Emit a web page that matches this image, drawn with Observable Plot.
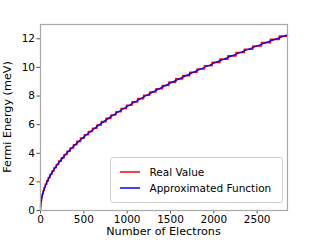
<!DOCTYPE html>
<html>
<head>
<meta charset="utf-8">
<script src="https://cdn.jsdelivr.net/npm/d3@7"></script>
<script src="https://cdn.jsdelivr.net/npm/@observablehq/plot@0.6"></script>
<style>
  html, body { margin: 0; padding: 0; background: #fff; }
  #chart { position: relative; width: 320px; height: 240px; }
  #chart svg text { font-family: "DejaVu Sans", sans-serif; }
</style>
</head>
<body>
<div id="chart"></div>
<script>
// Real value: Fermi energy steps (start electron count of each filled shell, energy in meV)
const shellStart = [0,2,6,12,20,30,42,56,72,90,110,132,156,182,210,240,272,306,342,380,420,462,506,552,600,650,702,756,812,870,930,992,1056,1122,1190,1260,1332,1406,1482,1560,1640,1722,1806,1892,1980,2070,2162,2256,2352,2450,2550,2652,2756,2850];
const shellEnergy = [0.23,0.46,0.69,0.92,1.15,1.38,1.61,1.84,2.07,2.30,2.53,2.76,2.99,3.22,3.45,3.68,3.91,4.14,4.37,4.60,4.83,5.06,5.29,5.52,5.75,5.98,6.21,6.44,6.67,6.90,7.13,7.36,7.59,7.82,8.05,8.28,8.51,8.74,8.97,9.20,9.43,9.66,9.89,10.12,10.35,10.58,10.81,11.04,11.27,11.50,11.73,11.96,12.19,12.19];

// Approximated function
const approxN = [0,2,5,10,20,35,50,75,100,150,200,300,400,500,600,800,1000,1200,1400,1600,1800,2000,2200,2400,2600,2850];
const approxE = [0,0.33,0.51,0.73,1.03,1.36,1.63,1.99,2.30,2.82,3.25,3.98,4.60,5.14,5.63,6.51,7.27,7.97,8.61,9.20,9.76,10.29,10.79,11.27,11.73,12.28];

const xTicks = [0,500,1000,1500,2000,2500];
const yTicks = [0,2,4,6,8,10,12];

const xLabel = "Number of Electrons";
const yLabel = "Fermi Energy (meV)";
const legendLabels = ["Real Value", "Approximated Function"];
const legendColors = ["#ff0000", "#0000ff"];

const real = shellStart.map((n, i) => ({n, e: shellEnergy[i]}));
const approx = approxN.map((n, i) => ({n, e: approxE[i]}));

const FS = 10.5;
const LFS = 11.2;
const LEG_FS = 10.5;

const plot = Plot.plot({
  width: 320,
  height: 240,
  marginLeft: 40,
  marginRight: 33,
  marginTop: 24,
  marginBottom: 30,
  style: {fontFamily: "DejaVu Sans", fontSize: FS + "px", color: "#000", background: "#fff", overflow: "visible"},
  x: {domain: [0, 2850]},
  y: {domain: [0, 13]},
  marks: [
    Plot.axisX({ticks: xTicks, tickSize: 3.5, tickPadding: 2, stroke: "#555", fontSize: FS, tickFormat: d => String(d), label: null, fill: "#000"}),
    Plot.axisY({ticks: yTicks, tickSize: 3.5, tickPadding: 2, stroke: "#555", fontSize: FS, tickFormat: d => String(d), label: null, fill: "#000"}),
    Plot.line(real, {x: "n", y: "e", curve: "step-after", stroke: legendColors[0], strokeWidth: 1.6}),
    Plot.line(approx, {x: "n", y: "e", curve: "monotone-x", stroke: legendColors[1], strokeWidth: 1.3}),
    Plot.frame({stroke: "#a8a8a8", strokeWidth: 1.2})
  ]
});

document.getElementById("chart").appendChild(plot);

const svg = d3.select(plot);

// Axis titles
svg.append("text").attr("x", (40 + 287) / 2).attr("y", 235)
  .attr("text-anchor", "middle").attr("font-size", LFS + "px").attr("fill", "#000").text(xLabel);
svg.append("text").attr("transform", `translate(11,${(24 + 210) / 2}) rotate(-90)`)
  .attr("text-anchor", "middle").attr("font-size", LFS + "px").attr("fill", "#000").text(yLabel);

// Legend box (matplotlib style) inside the plot area, lower right
const lg = svg.append("g").attr("transform", "translate(110.5,157.5)");
lg.append("rect").attr("width", 172).attr("height", 45).attr("rx", 2.5)
  .attr("fill", "#fff").attr("fill-opacity", 0.8).attr("stroke", "#d0d0d0").attr("stroke-width", 1);
legendLabels.forEach((lab, i) => {
  const y = 14.5 + i * 16;
  lg.append("line").attr("x1", 9.5).attr("x2", 29.5).attr("y1", y).attr("y2", y)
    .attr("stroke", legendColors[i]).attr("stroke-width", 1.5);
  lg.append("text").attr("x", 39).attr("y", y).attr("dy", "0.35em")
    .attr("text-anchor", "start")
    .attr("font-size", LEG_FS + "px").attr("fill", "#000").text(lab);
});
</script>
</body>
</html>
